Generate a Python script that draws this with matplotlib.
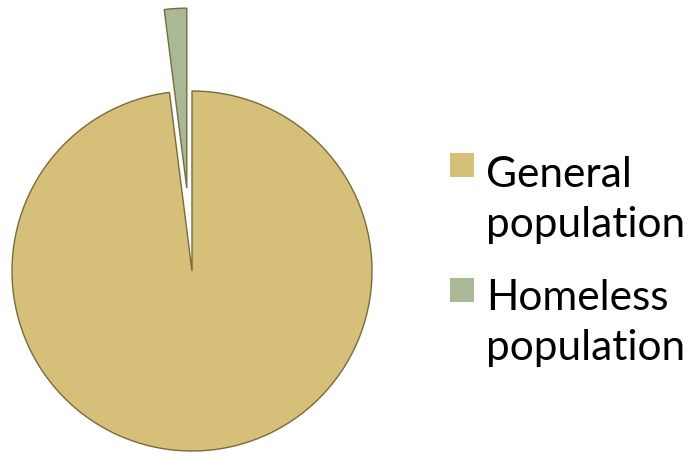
import matplotlib
matplotlib.use("Agg")
import matplotlib.pyplot as plt
from matplotlib.patches import Rectangle

labels = ["General\npopulation", "Homeless\npopulation"]
shares = [98, 2]
colors = ["#D5BF79", "#A9B996"]

W, H = 694, 457
R = 180
explode = [0, 83]  # pie takes explode in data units here

fig = plt.figure(figsize=(W / 100, H / 100), dpi=100)
ax = fig.add_axes([0, 0, 1, 1])

ax.pie(shares, colors=colors, explode=explode, startangle=90, counterclock=False,
       center=(192, H - 271), radius=R, frame=True,
       wedgeprops=dict(edgecolor="#7a6b3a", linewidth=1.0))
ax.set_xlim(0, W)
ax.set_ylim(0, H)
ax.set_aspect("equal")
ax.axis("off")

# legend drawn by hand: square beside first line of each label
sq_tops = [153, 278]
baselines = [237, 360]
for lab, col, top, base in zip(labels, colors, sq_tops, baselines):
    ax.add_patch(Rectangle((450, H - top - 24), 24, 24, facecolor=col, edgecolor="none"))
    ax.text(486, H - base, lab, fontsize=30.5, family="Lato", va="baseline", ha="left",
            linespacing=1.4, color="black")

fig.savefig("out.png", dpi=100)
